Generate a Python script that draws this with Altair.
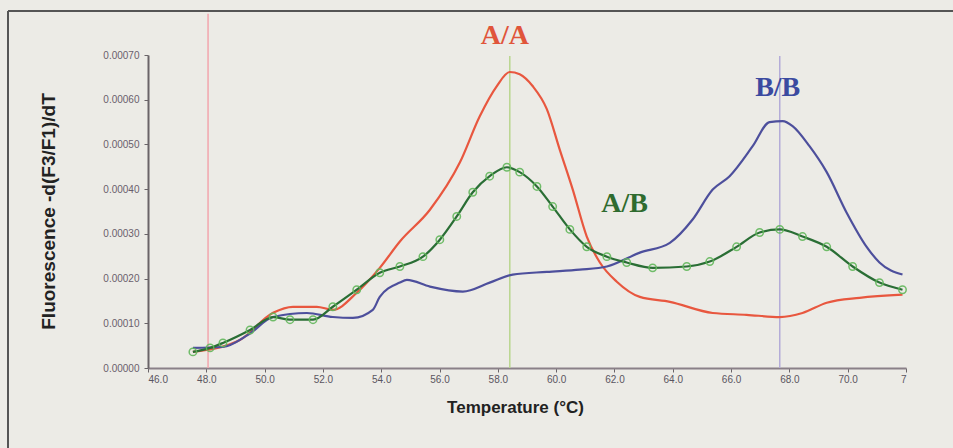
import altair as alt
import pandas as pd

# ---- data (Temperature in °C, -d(F3/F1)/dT) ----
red_T = [47.54, 49.15, 50.29, 50.97, 51.79, 52.34, 53.16, 53.95, 54.64, 55.67, 56.70,
         57.38, 57.96, 58.41, 58.75, 59.20, 59.68, 60.12, 60.57, 61.05, 61.50, 62.08,
         62.87, 63.90, 65.37, 66.53, 67.67, 68.45, 69.28, 70.41, 71.88]
red_v = [3.59e-5, 6.28e-5, 12.34e-5, 13.69e-5, 13.69e-5, 13.01e-5, 16.83e-5, 22.4e-5,
         28.3e-5, 35.4e-5, 46.0e-5, 56.3e-5, 63.0e-5, 66.2e-5, 65.7e-5, 63.0e-5, 57.9e-5,
         48.9e-5, 39.9e-5, 29.4e-5, 23.6e-5, 19.3e-5, 15.9e-5, 14.8e-5, 12.3e-5, 11.9e-5,
         11.4e-5, 12.3e-5, 14.6e-5, 15.7e-5, 16.4e-5]

blue_T = [47.54, 48.57, 49.43, 50.29, 51.45, 52.34, 53.03, 53.71, 53.95, 54.64, 54.88,
          55.67, 56.80, 57.72, 58.51, 59.68, 60.81, 61.74, 62.87, 63.90, 64.68, 65.37,
          65.95, 66.74, 67.32, 67.77, 68.11, 68.69, 69.28, 69.96, 70.65, 71.09, 71.88]
blue_v = [4.5e-5, 4.7e-5, 7.4e-5, 11.4e-5, 12.3e-5, 11.4e-5, 11.2e-5, 13.0e-5, 15.9e-5,
          19.1e-5, 19.7e-5, 18.2e-5, 17.1e-5, 19.1e-5, 20.9e-5, 21.5e-5, 22.0e-5, 22.7e-5,
          25.8e-5, 28.0e-5, 33.2e-5, 39.9e-5, 42.9e-5, 49.6e-5, 55.0e-5, 55.2e-5, 54.1e-5,
          49.6e-5, 43.8e-5, 34.8e-5, 27.1e-5, 23.6e-5, 20.9e-5]

green_T = [47.54, 48.13, 48.57, 49.50, 50.29, 50.87, 51.66, 52.34, 53.16, 53.95, 54.64,
           55.43, 56.01, 56.59, 57.14, 57.72, 58.31, 58.75, 59.34, 59.88, 60.47, 61.05,
           61.74, 62.42, 63.31, 64.48, 65.27, 66.19, 66.98, 67.67, 68.45, 69.28, 70.17,
           71.09, 71.88]
green_v = [3.6e-5, 4.5e-5, 5.6e-5, 8.5e-5, 11.4e-5, 10.8e-5, 10.8e-5, 13.7e-5, 17.5e-5,
           21.3e-5, 22.7e-5, 24.9e-5, 28.7e-5, 33.9e-5, 39.3e-5, 42.9e-5, 44.9e-5, 43.8e-5,
           40.6e-5, 36.1e-5, 31.0e-5, 27.1e-5, 24.9e-5, 23.6e-5, 22.4e-5, 22.7e-5, 23.8e-5,
           27.1e-5, 30.3e-5, 31.0e-5, 29.4e-5, 27.1e-5, 22.7e-5, 19.1e-5, 17.5e-5]

series_names = ["A/A", "B/B", "A/B"]
series_colors = ["#e8573f", "#4d4f9c", "#2a6e35"]

# vertical marker lines
rule_T = [48.06, 58.41, 67.67]
rule_top = [0.000792, 0.000698, 0.000698]
rule_colors = ["#f2a6ae", "#b9d68e", "#b4acd8"]

# genotype labels
label_text = ["A/A", "B/B", "A/B"]
label_T = [58.24, 67.6, 62.35]
label_v = [0.000742, 0.000626, 0.000366]
label_colors = ["#e0553a", "#3b4aa0", "#2f6b2f"]

y_ticks = [i * 0.00005 for i in range(15)]
x_ticks = list(range(46, 73, 2))

# ---- tables ----
curves = pd.concat([
    pd.DataFrame({"T": red_T, "v": red_v, "s": "A/A"}),
    pd.DataFrame({"T": blue_T, "v": blue_v, "s": "B/B"}),
    pd.DataFrame({"T": green_T, "v": green_v, "s": "A/B"}),
])
green = pd.DataFrame({"T": green_T, "v": green_v})
rules = pd.DataFrame({"T": rule_T, "top": rule_top, "c": rule_colors, "zero": 0.0})
labels = pd.DataFrame({"t": label_text, "T": label_T, "v": label_v, "c": label_colors})

xs = alt.Scale(domain=[46, 72], nice=False, zero=False)
ys = alt.Scale(domain=[0, 0.0007], nice=False)

x_axis = alt.Axis(values=x_ticks, labelExpr="datum.value == 72 ? '7' : format(datum.value, '.1f')",
                  title="Temperature (°C)", titleFontSize=17, titleFontWeight="bold",
                  titleFont="Liberation Sans", titleColor="#222222", titlePadding=15,
                  titleX=367, titleAlign="center",
                  labelFontSize=10, labelColor="#5a5560", labelFont="Liberation Sans",
                  tickSize=4, tickColor="#6a6468", domainColor="#8a8088", domainWidth=2,
                  grid=False, labelPadding=2)
y_axis = alt.Axis(values=y_ticks, format=".5f", title="Fluorescence -d(F3/F1)/dT",
                  titleFontSize=19, titleFontWeight="bold", titleFont="Liberation Sans",
                  titleColor="#222222", titleX=-100, titleY=156, titleAngle=270,
                  titleAlign="center", titleBaseline="middle",
                  labelFontSize=10, labelColor="#6a5e6c", labelFont="Liberation Sans",
                  tickSize=4, tickColor="#6a6468", domainColor="#6a6468", domainWidth=2,
                  grid=False, labelPadding=5)

base_rules = alt.Chart(rules).mark_rule(strokeWidth=1.5).encode(
    x=alt.X("T:Q", scale=xs, axis=x_axis),
    y=alt.Y("zero:Q", scale=ys, axis=y_axis),
    y2="top:Q",
    color=alt.Color("c:N", scale=None),
)

lines = alt.Chart(curves).mark_line(strokeWidth=2.2, interpolate="monotone").encode(
    x=alt.X("T:Q", scale=xs),
    y=alt.Y("v:Q", scale=ys),
    color=alt.Color("s:N", scale=alt.Scale(domain=series_names, range=series_colors), legend=None),
    detail="s:N",
)

pts = alt.Chart(green).mark_point(shape="circle", filled=False, size=55, strokeWidth=1.5,
                                  color="#63b85c", opacity=0.9).encode(
    x=alt.X("T:Q", scale=xs),
    y=alt.Y("v:Q", scale=ys),
)

txt = alt.Chart(labels).mark_text(font="Liberation Serif", fontWeight="bold", fontSize=28).encode(
    x=alt.X("T:Q", scale=xs),
    y=alt.Y("v:Q", scale=ys),
    text="t:N",
    color=alt.Color("c:N", scale=None),
)

frame_left = alt.Chart(rules).mark_rule(color="#555555", strokeWidth=2).encode(
    x=alt.value(-140), y=alt.value(-44), y2=alt.value(393))
frame_top = alt.Chart(rules).mark_rule(color="#555555", strokeWidth=2).encode(
    x=alt.value(-140), x2=alt.value(805), y=alt.value(-44))

chart = alt.layer(base_rules, lines, pts, txt, frame_left, frame_top).properties(
    width=758, height=313,
    autosize=alt.AutoSizeParams(type="none"),
    padding={"left": 148, "top": 55, "right": 47, "bottom": 80},
    background="#ecebe6",
).configure_view(stroke=None)

chart.save("out.html", embed_options={"renderer": "svg", "actions": False})
